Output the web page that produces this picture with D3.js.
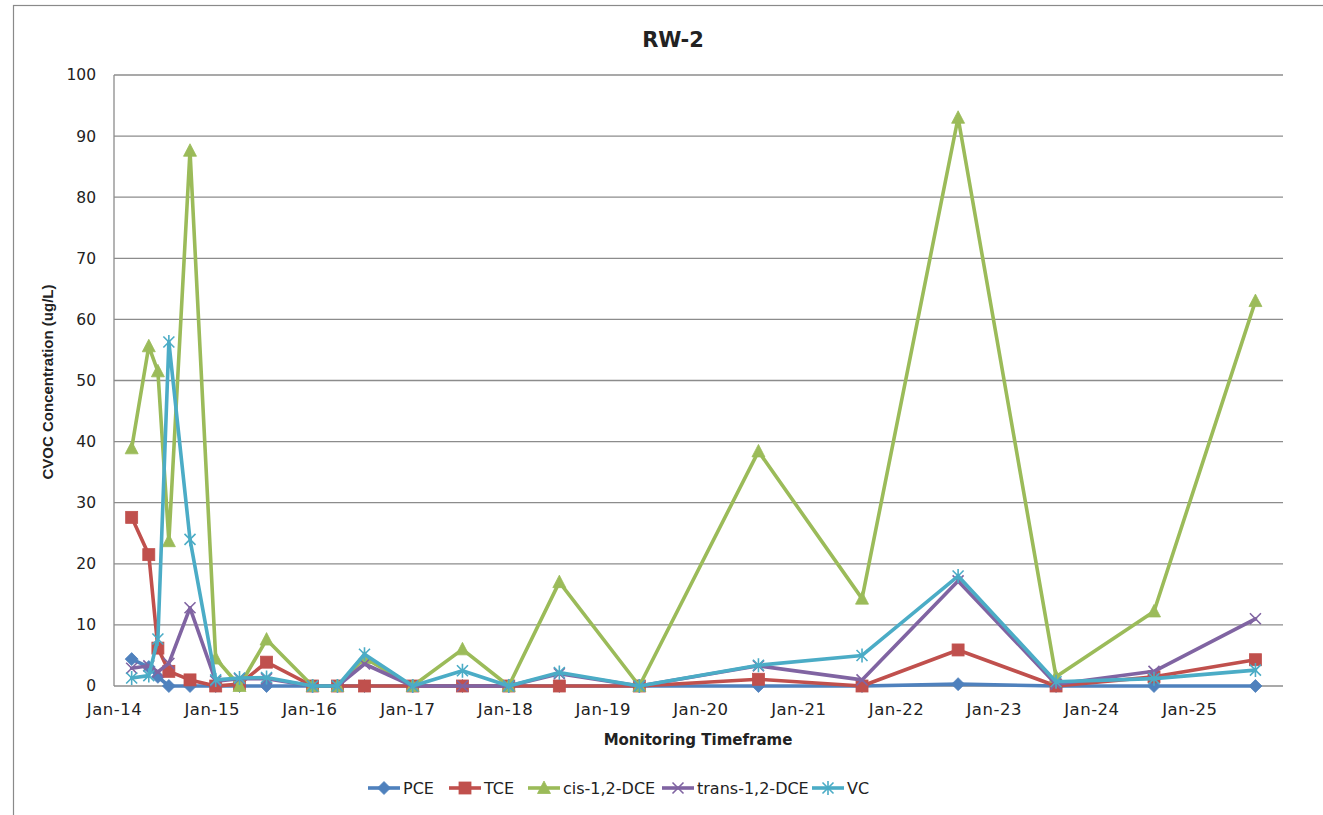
<!DOCTYPE html>
<html>
<head>
<meta charset="utf-8">
<script src="https://cdn.jsdelivr.net/npm/d3@7"></script>
<style>
  html, body { margin: 0; padding: 0; background: #fff; }
  svg { display: block; }
  text { font-family: "DejaVu Sans", sans-serif; fill: #222; }
</style>
</head>
<body>
<svg id="chart" width="1323" height="815"></svg>
<script>
// ---- data ----
const sampleDates = ["2014-03-08","2014-05-11","2014-06-14","2014-07-25","2014-10-12","2015-01-16","2015-04-15","2015-07-25","2016-01-13","2016-04-15","2016-07-25","2017-01-21","2017-07-26","2018-01-15","2018-07-23","2019-05-18","2020-08-05","2021-08-27","2022-08-21","2023-08-22","2024-08-22","2025-09-05"];
const seriesNames = ["PCE","TCE","cis-1,2-DCE","trans-1,2-DCE","VC"];
const pce   = [4.4, 3.1, 1.5, 0, 0, 0, 0, 0, 0, 0, 0, 0, 0, 0, 0, 0, 0, 0, 0.3, 0, 0, 0];
const tce   = [27.6, 21.5, 6.2, 2.4, 1.0, 0, 0.3, 3.9, 0, 0, 0, 0, 0, 0, 0, 0, 1.1, 0, 5.9, 0, 1.5, 4.3];
const cis   = [38.9, 55.6, 51.5, 23.7, 87.6, 4.5, 0, 7.6, 0, 0, 4.6, 0, 6.0, 0, 17.0, 0, 38.4, 14.3, 93.0, 1.5, 12.2, 63.0];
const trans = [2.9, 3.3, 2.3, 3.7, 12.8, 0.8, 1.2, 1.2, 0, 0, 3.6, 0, 0, 0, 2.0, 0, 3.3, 1.0, 17.2, 0.3, 2.4, 11.0];
const vc    = [1.3, 1.7, 7.7, 56.3, 24.0, 1.0, 1.3, 1.4, 0, 0, 5.2, 0, 2.5, 0, 2.2, 0, 3.4, 5.0, 18.0, 0.7, 1.2, 2.6];
const yTicks = [0,10,20,30,40,50,60,70,80,90,100];
const xTickLabels = ["Jan-14","Jan-15","Jan-16","Jan-17","Jan-18","Jan-19","Jan-20","Jan-21","Jan-22","Jan-23","Jan-24","Jan-25"];
const colors = ["#4F81BD","#C0504D","#9BBB59","#8064A2","#4BACC6"];
const markers = ["diamond","square","triangle","x","asterisk"];

const allValues = [pce, tce, cis, trans, vc];
const parse = d3.timeParse("%Y-%m-%d");
const dates = sampleDates.map(parse);
const tickDates = xTickLabels.map(s => d3.timeParse("%b-%y")(s));

// ---- layout ----
const svg = d3.select("#chart");
const L = 114, R = 1283, T = 75, B = 686;

svg.append("rect").attr("x", 13.5).attr("y", 5.5).attr("width", 1400).attr("height", 900)
  .attr("fill", "none").attr("stroke", "#8a8a8a").attr("stroke-width", 1.2);

const x = d3.scaleTime().domain([parse("2014-01-01"), parse("2025-12-17")]).range([L, R]);
const y = d3.scaleLinear().domain([0, 100]).range([B, T]);

// gridlines
svg.append("g").selectAll("line").data(yTicks).join("line")
  .attr("x1", L).attr("x2", R)
  .attr("y1", d => y(d)).attr("y2", d => y(d))
  .attr("stroke", "#8c8c8c").attr("stroke-width", 1.3);
// left axis line
svg.append("line").attr("x1", L).attr("x2", L).attr("y1", T).attr("y2", B)
  .attr("stroke", "#8c8c8c").attr("stroke-width", 1.3);

// y axis labels
const yAxis = d3.axisLeft(y).tickValues(yTicks).tickSize(0).tickPadding(18);
const gy = svg.append("g").attr("transform", `translate(${L},0)`).call(yAxis);
gy.select(".domain").remove();
gy.selectAll("text").style("font-size", "15.5px").style("font-family", "DejaVu Sans").attr("fill", "#222");

// x axis labels
const xAxis = d3.axisBottom(x).tickValues(tickDates).tickFormat((d, i) => xTickLabels[i]).tickSize(0).tickPadding(17);
const gx = svg.append("g").attr("transform", `translate(0,${B})`).call(xAxis);
gx.select(".domain").remove();
gx.selectAll("text").style("font-size", "16.5px").style("font-family", "DejaVu Sans")
  .style("letter-spacing", "0.5px").attr("fill", "#222");

// titles
svg.append("text").attr("x", 673).attr("y", 47).attr("text-anchor", "middle")
  .style("font-size", "21px").style("font-weight", "bold").text("RW-2");
svg.append("text").attr("x", 698).attr("y", 745).attr("text-anchor", "middle")
  .style("font-size", "15px").style("font-weight", "bold").text("Monitoring Timeframe");
svg.append("text").attr("transform", "translate(53,382) rotate(-90)").attr("text-anchor", "middle")
  .style("font-family", "'Liberation Sans', Arial, sans-serif")
  .style("font-size", "15px").style("font-weight", "bold").text("CVOC Concentration (ug/L)");

// marker drawing
function drawMarker(g, type, color, cx, cy) {
  const s = 6.5;
  if (type === "diamond") {
    g.append("path").attr("d", `M${cx},${cy - s}L${cx + s},${cy}L${cx},${cy + s}L${cx - s},${cy}Z`)
      .attr("fill", color).attr("stroke", color).attr("stroke-width", 0.8);
  } else if (type === "square") {
    g.append("rect").attr("x", cx - 6).attr("y", cy - 6).attr("width", 12).attr("height", 12)
      .attr("fill", color).attr("stroke", color).attr("stroke-width", 0.8);
  } else if (type === "triangle") {
    g.append("path").attr("d", `M${cx},${cy - 7}L${cx + 6.5},${cy + 5.5}L${cx - 6.5},${cy + 5.5}Z`)
      .attr("fill", color).attr("stroke", color).attr("stroke-width", 0.8);
  } else if (type === "x") {
    g.append("path").attr("d", `M${cx - 5.5},${cy - 5.5}L${cx + 5.5},${cy + 5.5}M${cx - 5.5},${cy + 5.5}L${cx + 5.5},${cy - 5.5}`)
      .attr("stroke", color).attr("stroke-width", 1.6).attr("fill", "none");
  } else if (type === "asterisk") {
    g.append("path").attr("d", `M${cx - 5.5},${cy - 5.5}L${cx + 5.5},${cy + 5.5}M${cx - 5.5},${cy + 5.5}L${cx + 5.5},${cy - 5.5}M${cx},${cy - 7}L${cx},${cy + 7}`)
      .attr("stroke", color).attr("stroke-width", 1.6).attr("fill", "none");
  }
}

const line = d3.line().x(d => x(d[0])).y(d => y(d[1]));

allValues.forEach((vals, si) => {
  const g = svg.append("g");
  const pts = dates.map((d, i) => [d, vals[i]]);
  g.append("path").datum(pts).attr("d", line)
    .attr("fill", "none").attr("stroke", colors[si]).attr("stroke-width", 3.6)
    .attr("stroke-linejoin", "round").attr("stroke-linecap", "round");
  pts.forEach(p => drawMarker(g, markers[si], colors[si], x(p[0]), y(p[1])));
});

// legend
const legendStarts = [368, 449, 528, 662, 812];
const ly = 788;
seriesNames.forEach((name, i) => {
  const g = svg.append("g");
  const x0 = legendStarts[i];
  g.append("line").attr("x1", x0).attr("x2", x0 + 32).attr("y1", ly).attr("y2", ly)
    .attr("stroke", colors[i]).attr("stroke-width", 3.6);
  drawMarker(g, markers[i], colors[i], x0 + 16, ly);
  g.append("text").attr("x", x0 + 35).attr("y", ly + 6)
    .style("font-size", "16px").text(name);
});
</script>
</body>
</html>
